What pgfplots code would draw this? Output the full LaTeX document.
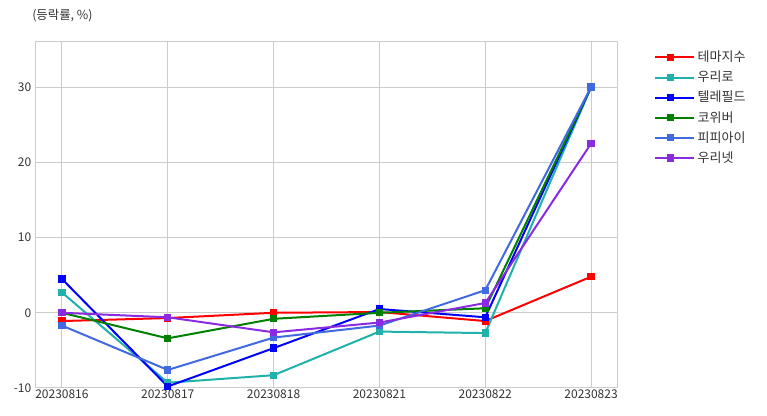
\documentclass[border=0pt]{standalone}
\usepackage{pgfplots}
\pgfplotsset{compat=1.18}
\usepackage{fontspec}
\setmainfont{Noto Sans CJK KR}
\definecolor{cRed}{HTML}{FF0000}
\definecolor{cTeal}{HTML}{20B2AA}
\definecolor{cBlue}{HTML}{0000FF}
\definecolor{cGreen}{HTML}{008000}
\definecolor{cRoyal}{HTML}{4169E1}
\definecolor{cViolet}{HTML}{8A2BE2}
\definecolor{gridc}{HTML}{CCCCCC}
\definecolor{tickc}{HTML}{333333}
\begin{document}
\begin{tikzpicture}[x=1pt,y=1pt]
\path (0,0) rectangle (575.25,312);
\node[anchor=west, font=\fontsize{9.3}{11}\selectfont, text=tickc, inner sep=0] at (24,300) {(등락률, \%)};
\begin{axis}[
  at={(27pt,21pt)}, anchor=south west,
  scale only axis, width=435.75pt, height=259.5pt,
  xmin=-0.245, xmax=5.245, ymin=-10, ymax=36,
  xtick={0,1,2,3,4,5},
  xticklabels={20230816,20230817,20230818,20230821,20230822,20230823},
  ytick={-10,0,10,20,30},
  grid=major,
  major grid style={gridc, line width=0.75pt},
  axis line style={gridc, line width=0.75pt},
  tick style={draw=none},
  ticklabel style={font=\fontsize{9}{10}\selectfont, text=tickc},
  /pgf/number format/assume math mode=true,
  xticklabel style={yshift=2pt},
  every axis plot/.append style={line width=1.5pt, mark=square*, mark size=2pt, mark options={solid}},
  legend style={at={(1.057,0.99)}, anchor=north west, draw=none, fill=none,
    font=\fontsize{9.75}{11}\selectfont, text=tickc, row sep=1.5pt},
  legend cell align=left,
  legend image code/.code={\path (0pt,0pt) -- (29pt,0pt); \draw[#1] (0pt,0pt) -- (23pt,0pt); \draw[#1,mark repeat=2,mark phase=2] plot coordinates {(0pt,0pt) (11.5pt,0pt) (23pt,0pt)};},
]
\addplot[cRed] coordinates {(0,-1.1) (1,-0.7) (2,0.0) (3,0.1) (4,-1.1) (5,4.8)};
\addlegendentry{테마지수}
\addplot[cTeal] coordinates {(0,2.7) (1,-9.3) (2,-8.3) (3,-2.5) (4,-2.7) (5,30.0)};
\addlegendentry{우리로}
\addplot[cBlue] coordinates {(0,4.5) (1,-9.8) (2,-4.7) (3,0.5) (4,-0.6) (5,30.0)};
\addlegendentry{텔레필드}
\addplot[cGreen] coordinates {(0,0.0) (1,-3.4) (2,-0.8) (3,0.0) (4,0.6) (5,30.0)};
\addlegendentry{코위버}
\addplot[cRoyal] coordinates {(0,-1.7) (1,-7.6) (2,-3.3) (3,-1.7) (4,3.0) (5,30.0)};
\addlegendentry{피피아이}
\addplot[cViolet] coordinates {(0,0.0) (1,-0.6) (2,-2.6) (3,-1.3) (4,1.3) (5,22.5)};
\addlegendentry{우리넷}
\end{axis}
\end{tikzpicture}
\end{document}
